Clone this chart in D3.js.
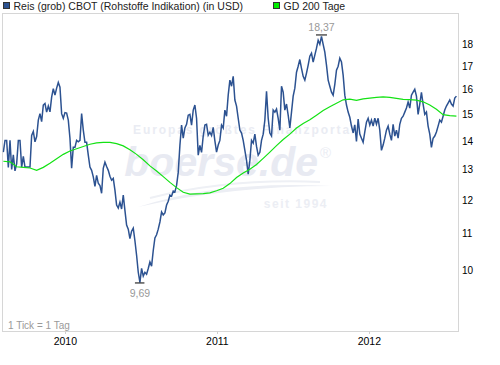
<!DOCTYPE html>
<html>
<head>
<meta charset="utf-8">
<script src="https://cdn.jsdelivr.net/npm/d3@7"></script>
<style>
body { margin: 0; background: #fff; }
svg { display: block; font-family: "Liberation Sans", Arial, sans-serif; }
</style>
</head>
<body>
<div id="chart"></div>
<script>
const width = 500, height = 365;
const frame = {left: 2.5, top: 13.5, right: 458.5, bottom: 331.5};

const seriesName = "Reis (grob) CBOT (Rohstoffe Indikation) (in USD)";
const maName = "GD 200 Tage";
const priceColor = "#2c5291";
const maColor = "#14e214";

// price, one reading every 4 days
const priceStart = "2009-08-05";
const priceStepDays = 4;
const prices = [
  13.6, 14.02, 14.02, 13.07, 14.02, 13.0, 13.5, 12.95, 13.2, 14.02, 14.02, 13.08, 13.45, 13.08, 13.08, 13.08, 13.08,
  14.2, 14.35, 13.97, 14.16, 14.78, 15.03, 14.72, 15.37, 15.43, 15.09, 15.33, 15.1, 15.69, 16.04, 15.77, 16.06,
  16.3, 16.1, 15.03, 14.85, 15.07, 15.05, 14.78, 14.1, 13.04, 13.77, 13.77, 14.02, 13.97, 14.02, 15.03, 14.4,
  13.95, 13.95, 13.49, 13.08, 12.97, 12.75, 12.44, 12.8, 12.54, 12.47,
  12.22, 13.04, 13.25, 13.1, 12.97, 12.77, 12.64, 12.7, 12.32, 11.85, 11.76, 11.94, 11.73, 12.16, 11.69, 11.25,
  11.13, 10.86, 11.07, 11.16, 10.8, 10.4, 9.95, 9.69, 10.05, 9.85, 9.95, 9.9, 10.05, 10.22, 10.11, 10.53, 10.88,
  10.97, 11.13, 11.34, 11.64, 11.55, 11.61, 11.85, 11.97, 12.16, 12.13, 12.29, 12.26, 12.47, 12.9,
  13.84, 14.59, 14.1, 14.48, 14.62, 14.97, 15.0, 14.59, 15.17, 15.37, 14.85, 13.49, 13.84, 13.59, 14.18, 14.59,
  14.62, 14.21, 14.32, 14.2, 14.5, 14.0, 13.6, 13.85, 14.02, 14.59, 14.48, 15.17, 14.93, 15.77, 16.4, 16.14,
  16.56, 15.57, 15.33, 14.85, 14.4, 14.29, 14.02, 13.66, 13.31, 12.84, 13.31, 14.02, 13.92, 14.25, 13.8, 13.49,
  13.59, 14.02, 14.25, 14.78, 15.93,
  14.85, 14.29, 14.18, 15.17, 15.09, 15.21, 14.85, 14.4, 16.14, 15.89, 15.17, 15.41, 14.97, 14.48, 15.09, 15.73,
  16.06, 16.74, 17.0, 17.3, 16.91, 16.56, 16.4, 16.7, 17.05, 17.45, 17.59, 17.19, 17.5, 17.82, 18.19, 18.0,
  18.37, 18.0, 17.64, 17.05, 16.4, 16.14, 15.89, 15.77, 16.22, 16.83, 17.0, 17.36, 17.19, 16.61, 15.77, 15.37,
  15.09, 14.89,
  14.55, 14.3, 14.6, 13.98, 14.82, 14.25, 14.1, 13.95, 14.33, 14.7, 14.85, 14.59, 14.78, 14.55, 14.85, 14.62,
  14.85, 14.4, 13.66, 13.85, 14.1, 14.4, 14.55, 14.25, 14.02, 14.62, 14.18, 14.4, 14.1, 14.62, 14.85, 14.93,
  15.09, 15.25, 15.49, 15.25, 15.77, 15.89, 16.01, 15.73, 15.0, 15.41, 15.89, 15.41, 15.0, 15.09, 14.55, 14.25,
  13.77, 14.1, 14.18, 14.33, 14.55, 14.78, 14.7, 14.93, 15.17, 15.33, 15.45, 15.57, 15.41, 15.33, 15.65, 15.73
];

// 200 day average, one reading every 16 days
const maStart = "2009-08-05";
const maStepDays = 16;
const ma200 = [
  13.28, 13.26, 13.09, 13.07, 13.05, 12.97, 13.07, 13.21, 13.37, 13.52, 13.64, 13.72, 13.8, 13.88, 13.93, 13.95,
  13.95, 13.9, 13.82, 13.68, 13.52, 13.33, 13.12, 12.95, 12.76, 12.57, 12.4, 12.25, 12.19, 12.2, 12.21, 12.23,
  12.3, 12.38, 12.53, 12.73, 12.88, 13.01, 13.17, 13.38, 13.6, 13.83, 14.05, 14.25, 14.48, 14.65, 14.79, 14.97,
  15.15, 15.3, 15.44, 15.58, 15.61, 15.56, 15.62, 15.65, 15.68, 15.7, 15.68, 15.64, 15.6, 15.59, 15.57, 15.5,
  15.37, 15.2, 14.99, 14.95, 14.93
];

const yTicks = [10, 11, 12, 13, 14, 15, 16, 17, 18];
const yDomain = [8.53, 19.5];
const xDomain = ["2009-08-03", "2012-08-02"];
const xTicks = ["2010-01-01", "2011-01-01", "2012-01-01"];
const xTickLabels = ["2010", "2011", "2012"];

const parse = d3.timeParse("%Y-%m-%d");

const priceData = prices.map((v, i) => ({date: d3.timeDay.offset(parse(priceStart), i * priceStepDays), value: v}));
const maData = ma200.map((v, i) => ({date: d3.timeDay.offset(parse(maStart), i * maStepDays), value: v}));

const x = d3.scaleTime()
    .domain(xDomain.map(parse))
    .range([frame.left, frame.right]);

const y = d3.scaleLog()
    .domain(yDomain)
    .range([frame.bottom, frame.top]);

let svg = d3.select("#chart")
    .append("svg")
        .attr("width", width)
        .attr("height", height);

svg.append("rect")
    .attr("width", width).attr("height", height)
    .attr("fill", "#fff");

svg.append("defs").append("clipPath")
    .attr("id", "plot")
    .append("rect")
        .attr("x", frame.left).attr("y", frame.top)
        .attr("width", frame.right - frame.left)
        .attr("height", frame.bottom - frame.top);

// watermark, very faint
const wm = svg.append("g").attr("class", "watermark");
wm.append("text")
    .attr("x", 133).attr("y", 134)
    .attr("fill", "#eaecf3")
    .style("font-size", "12px").style("font-weight", "bold")
    .style("letter-spacing", "1.9px")
    .text("Europas größtes Finanzportal");
wm.append("path")
    .attr("d", "M138,207 Q220,180 332,186 Q230,186 138,207 Z")
    .attr("fill", "#eceef4");
wm.append("path")
    .attr("d", "M150,198 Q230,178 320,182")
    .attr("fill", "none").attr("stroke", "#eef0f5").attr("stroke-width", 2);
wm.append("text")
    .attr("x", 318).attr("y", 176)
    .attr("text-anchor", "end")
    .attr("fill", "#e8eaf2")
    .style("font-size", "41px").style("font-weight", "bold").style("font-style", "italic")
    .text("boerse.de");
wm.append("text")
    .attr("x", 320).attr("y", 158)
    .attr("fill", "#eaecf3")
    .style("font-size", "15px")
    .text("®");
wm.append("text")
    .attr("x", 328).attr("y", 208)
    .attr("text-anchor", "end")
    .attr("fill", "#eceef4")
    .style("font-size", "12px").style("font-weight", "bold")
    .style("letter-spacing", "1.5px")
    .text("seit 1994");

// frame
svg.append("rect")
    .attr("x", frame.left).attr("y", frame.top)
    .attr("width", frame.right - frame.left)
    .attr("height", frame.bottom - frame.top)
    .attr("fill", "none")
    .attr("stroke", "#d6d6d6");

const plot = svg.append("g").attr("clip-path", "url(#plot)");

const line = d3.line()
    .x(d => x(d.date))
    .y(d => y(d.value));

plot.append("path")
    .datum(priceData)
    .attr("fill", "none")
    .attr("stroke", priceColor)
    .attr("stroke-width", 1.5)
    .attr("stroke-linejoin", "miter")
    .attr("d", line);

plot.append("path")
    .datum(maData)
    .attr("fill", "none")
    .attr("stroke", maColor)
    .attr("stroke-width", 1.2)
    .attr("d", line);

// high / low markers
const fmt = v => d3.format(".2f")(v).replace(".", ",");
const hi = priceData[d3.maxIndex(priceData, d => d.value)];
const lo = priceData[d3.minIndex(priceData, d => d.value)];

svg.append("line")
    .attr("x1", x(hi.date) - 5.5).attr("x2", x(hi.date) + 5.5)
    .attr("y1", y(hi.value) - 1.5).attr("y2", y(hi.value) - 1.5)
    .attr("stroke", "#000");
svg.append("text")
    .attr("x", x(hi.date)).attr("y", y(hi.value) - 5.5)
    .attr("text-anchor", "middle")
    .attr("fill", "#999")
    .style("font-size", "10.5px")
    .text(fmt(hi.value));

svg.append("line")
    .attr("x1", x(lo.date) - 5).attr("x2", x(lo.date) + 4.5)
    .attr("y1", y(lo.value) + 0.5).attr("y2", y(lo.value) + 0.5)
    .attr("stroke", "#000");
svg.append("text")
    .attr("x", x(lo.date)).attr("y", y(lo.value) + 14.5)
    .attr("text-anchor", "middle")
    .attr("fill", "#999")
    .style("font-size", "10.5px")
    .text(fmt(lo.value));

// y axis labels on the right
svg.selectAll(".ylabel")
    .data(yTicks)
    .enter()
    .append("text")
        .attr("class", "ylabel")
        .attr("x", 462)
        .attr("y", d => y(d))
        .attr("dy", "0.36em")
        .attr("fill", "#000")
        .style("font-size", "10px")
        .text(d => d);

// x axis
const xt = xTicks.map(parse);
svg.selectAll(".xtick")
    .data(xt)
    .enter()
    .append("line")
        .attr("x1", d => Math.round(x(d)) + 0.5).attr("x2", d => Math.round(x(d)) + 0.5)
        .attr("y1", frame.bottom).attr("y2", frame.bottom + 2.5)
        .attr("stroke", "#cfcfcf");
svg.selectAll(".xlabel")
    .data(xt)
    .enter()
    .append("text")
        .attr("x", d => x(d))
        .attr("y", 345)
        .attr("text-anchor", "middle")
        .attr("fill", "#000")
        .style("font-size", "10.5px")
        .text((d, i) => xTickLabels[i]);

svg.append("text")
    .attr("x", 8).attr("y", 328.5)
    .attr("fill", "#9a9a9a")
    .style("font-size", "10px")
    .text("1 Tick = 1 Tag");

// legend
const legend = [
    {name: seriesName, color: priceColor, x: 3.5},
    {name: maName, color: "#00f000", x: 273.5}
];
const lg = svg.selectAll(".legend")
    .data(legend)
    .enter()
    .append("g")
        .attr("transform", d => "translate(" + d.x + ",0)");
lg.append("rect")
    .attr("x", 0).attr("y", 2.5)
    .attr("width", 6).attr("height", 6)
    .attr("fill", d => d.color)
    .attr("stroke", "#333");
lg.append("text")
    .attr("x", 10).attr("y", 10)
    .attr("fill", "#222")
    .style("font-size", "10.5px")
    .text(d => d.name);
</script>
</body>
</html>
